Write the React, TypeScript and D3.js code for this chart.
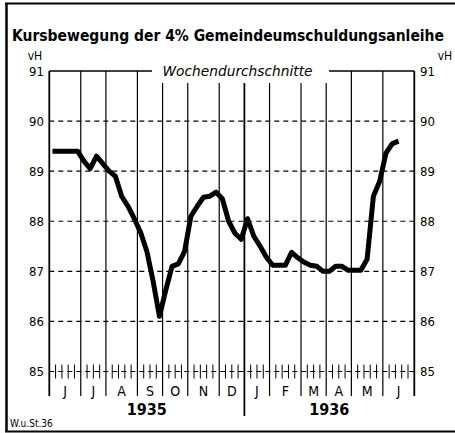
import React from "react";
import * as d3 from "d3";

// months shown on the axis (June 1935 .. June 1936) and weeks in each
const months = ["J", "J", "A", "S", "O", "N", "D", "J", "F", "M", "A", "M", "J"];
const weeksPerMonth = [5, 4, 5, 4, 4, 5, 4, 4, 5, 4, 4, 5, 5];
const years = [
  { label: "1935", from: 0, to: 7 },
  { label: "1936", from: 7, to: 13 },
];
const yTicks = [85, 86, 87, 88, 89, 90, 91];

// weekly average prices (vH)
const weekly = [
  89.4, 89.4, 89.4, 89.4, 89.4, 89.2, 89.05, 89.3, 89.15, 89.0,
  88.9, 88.5, 88.3, 88.05, 87.78, 87.4, 86.8, 86.1, 86.62, 87.1,
  87.15, 87.4, 88.1, 88.3, 88.48, 88.5, 88.58, 88.45, 88.0, 87.76,
  87.64, 88.05, 87.7, 87.5, 87.28, 87.12, 87.12, 87.12, 87.38, 87.27,
  87.18, 87.12, 87.1, 87.0, 87.0, 87.1, 87.1, 87.02, 87.02, 87.02,
  87.24, 88.5, 88.8, 89.36, 89.55, 89.6,
];

const W = 455;
const H = 433;
const left = 49.3;
const right = 414.3;
const top = 71;
const bottom = 371.5;

const narrow = "'Liberation Sans Narrow', 'DejaVu Sans Condensed', 'Liberation Sans', sans-serif";

export default function App() {
  const totalWeeks = d3.sum(weeksPerMonth);
  const x = d3.scaleLinear().domain([0, totalWeeks]).range([left, right]);
  const y = d3.scaleLinear().domain([85, 91]).range([bottom, top]);

  const monthEdges = [0, ...Array.from(d3.cumsum(weeksPerMonth))];

  const line = d3
    .line<number>()
    .x((_, i) => x(i + 0.5))
    .y((d) => y(d));

  // weekly ticks on the 85 line (week boundaries inside each month)
  const weekTicks: number[] = [];
  for (let w = 1; w < totalWeeks; w++) {
    if (!monthEdges.includes(w)) weekTicks.push(w);
  }

  const gapFrom = 152;
  const gapTo = 329;

  return (
    <svg
      width={W}
      height={H}
      style={{ position: "absolute", left: 0, top: 0, background: "#fff" }}
    >
      {/* frame */}
      <line x1={6.5} x2={6.5} y1={3} y2={432} stroke="#000" strokeWidth={2.5} />
      <line x1={5} x2={W} y1={3.5} y2={3.5} stroke="#000" strokeWidth={2} />
      <line x1={5} x2={W} y1={431.5} y2={431.5} stroke="#000" strokeWidth={2} />

      <text
        x={228}
        y={41}
        fontFamily={narrow}
        fontWeight="bold"
        fontSize={15.5}
        textAnchor="middle"
        textLength={432}
        lengthAdjust="spacingAndGlyphs"
      >
        Kursbewegung der 4% Gemeindeumschuldungsanleihe
      </text>

      <text x={35} y={60} fontFamily={narrow} fontSize={12} textAnchor="middle">vH</text>
      <text x={445} y={60} fontFamily={narrow} fontSize={12} textAnchor="middle">vH</text>

      {/* horizontal grid */}
      {yTicks.map((t) =>
        t === 91 ? (
          <g key={t}>
            <line x1={left} x2={gapFrom} y1={y(t)} y2={y(t)} stroke="#000" strokeWidth={1.3} />
            <line x1={gapTo} x2={right} y1={y(t)} y2={y(t)} stroke="#000" strokeWidth={1.3} />
          </g>
        ) : (
          <line
            key={t}
            x1={left}
            x2={right}
            y1={y(t)}
            y2={y(t)}
            stroke="#000"
            strokeWidth={1.1}
            strokeDasharray="5 4"
          />
        )
      )}

      <text
        x={(gapFrom + gapTo) / 2 - 3}
        y={y(91) + 5}
        fontFamily={narrow}
        fontStyle="italic"
        fontSize={14}
        textAnchor="middle"
        textLength={150}
        lengthAdjust="spacingAndGlyphs"
      >
        Wochendurchschnitte
      </text>

      {/* y labels */}
      {yTicks.map((t) => (
        <g key={t} fontFamily={narrow} fontSize={13}>
          <text x={44} y={y(t) + 4.5} textAnchor="end">{t}</text>
          <text x={420} y={y(t) + 4.5}>{t}</text>
        </g>
      ))}

      {/* week ticks */}
      {weekTicks.map((w) => (
        <line key={w} x1={x(w)} x2={x(w)} y1={y(85) - 7} y2={y(85) + 7} stroke="#000" strokeWidth={1} />
      ))}

      {/* month separators and axes */}
      {monthEdges.map((w, i) => {
        const xv = x(w);
        const isAxis = i === 0 || i === monthEdges.length - 1;
        const inGap = xv > gapFrom && xv < gapTo;
        const y2 = i === 7 ? 416 : 396;
        return (
          <line
            key={i}
            x1={xv}
            x2={xv}
            y1={inGap ? 83 : y(91)}
            y2={y2}
            stroke="#000"
            strokeWidth={isAxis || i === 7 ? 1.8 : 1.2}
          />
        );
      })}

      {/* month labels */}
      {months.map((m, i) => (
        <text
          key={i}
          x={x((monthEdges[i] + monthEdges[i + 1]) / 2)}
          y={396}
          fontFamily={narrow}
          fontSize={14}
          textAnchor="middle"
        >
          {m}
        </text>
      ))}

      {years.map((yr) => (
        <text
          key={yr.label}
          x={(x(monthEdges[yr.from]) + x(monthEdges[yr.to])) / 2}
          y={415}
          fontFamily={narrow}
          fontWeight="bold"
          fontSize={16}
          textAnchor="middle"
        >
          {yr.label}
        </text>
      ))}

      <text x={10} y={427} fontFamily={narrow} fontSize={10}>W.u.St.36</text>

      <path
        d={line(weekly) || ""}
        fill="none"
        stroke="#000"
        strokeWidth={5}
        strokeLinejoin="round"
        strokeLinecap="butt"
      />
    </svg>
  );
}
